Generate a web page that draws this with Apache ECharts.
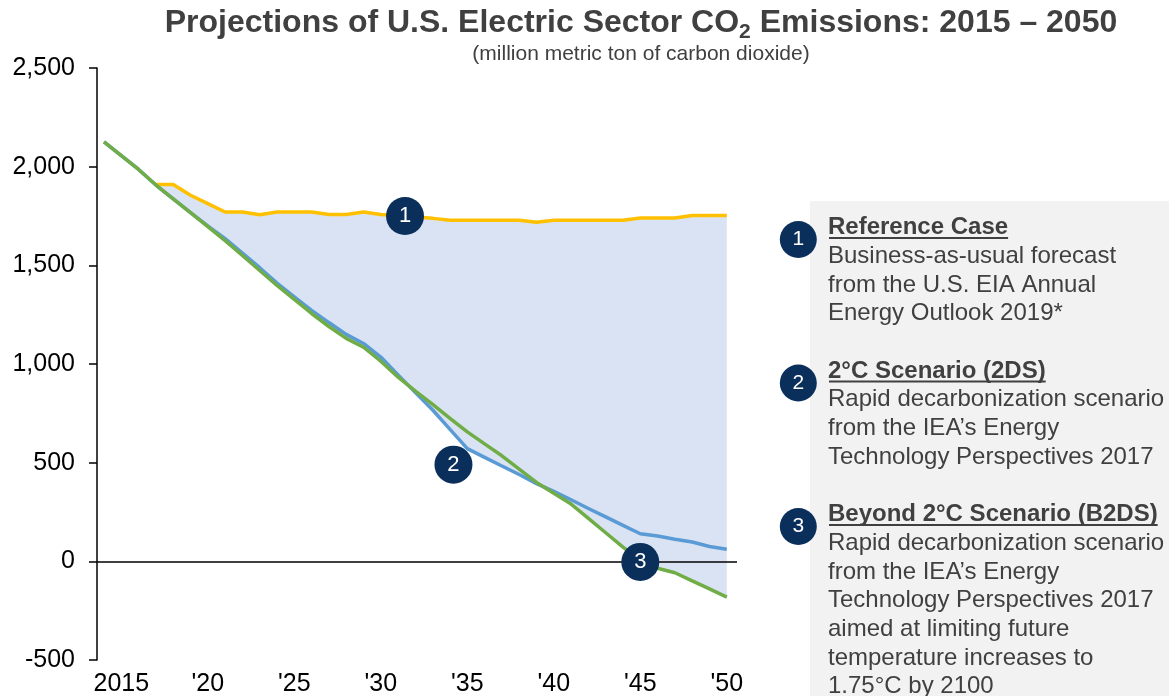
<!DOCTYPE html>
<html><head><meta charset="utf-8">
<script src="https://cdn.jsdelivr.net/npm/echarts@6/dist/echarts.min.js"></script>
<style>html,body{margin:0;padding:0;background:#fff}#c{width:1169px;height:696px}</style>
</head><body><div id="c"></div>
<script>
// ---------------- data ----------------
const years = [2014,2015,2016,2017,2018,2019,2020,2021,2022,2023,2024,2025,2026,2027,2028,2029,2030,2031,2032,2033,2034,2035,2036,2037,2038,2039,2040,2041,2042,2043,2044,2045,2046,2047,2048,2049,2050];
const referenceCase = [null,null,null,1910,1910,1855,1813,1770,1770,1756,1770,1770,1770,1758,1758,1770,1758,1752,1745,1738,1729,1729,1729,1729,1729,1718,1728,1728,1728,1728,1728,1740,1740,1740,1752,1752,1752];
const scenario2DS = [2126,2056,1986,1907,1837,1767,1700,1635,1562,1488,1410,1340,1272,1210,1150,1104,1035,945,855,767,669,571,527,483,440,394,355,312,268,225,182,140,128,112,98,75,61];
const scenarioB2DS = [2126,2056,1986,1907,1837,1767,1696,1625,1550,1474,1398,1327,1256,1190,1130,1085,1014,933,862,795,725,656,595,535,467,400,345,290,218,145,72,5,-35,-58,-99,-140,-181];
const xTickValues = [2015,2020,2025,2030,2035,2040,2045,2050];
const xTickLabels = ['2015',"'20","'25","'30","'35","'40","'45","'50"];
const annotations = [
  {num:'1', year:2031.4, value:1750},
  {num:'2', year:2034.2, value:490},
  {num:'3', year:2045.0, value:-3}
];
const titleParts = ['Projections of U.S. Electric Sector CO', '2', ' Emissions: 2015 \u2013 2050'];
const subtitle = '(million metric ton of carbon dioxide)';
const legendItems = [
  {num:'1', title:'Reference Case', lines:['Business-as-usual forecast','from the U.S. EIA Annual','Energy Outlook 2019*']},
  {num:'2', title:'2\u00B0C Scenario (2DS)', lines:['Rapid decarbonization scenario','from the IEA\u2019s Energy','Technology Perspectives 2017']},
  {num:'3', title:'Beyond 2\u00B0C Scenario (B2DS)', lines:['Rapid decarbonization scenario','from the IEA\u2019s Energy','Technology Perspectives 2017','aimed at limiting future','temperature increases to','1.75\u00B0C by 2100']}
];

// ---------------- styling ----------------
const FONT = '"Liberation Sans", Arial, Helvetica, sans-serif';
const TEXT = '#404040';
const NAVY = '#0B2F5B';
const C_REF = '#FFC000', C_2DS = '#5B9BD5', C_B2DS = '#70AD47', C_FILL = '#DAE3F3';

const mctx = document.createElement('canvas').getContext('2d');
function measure(txt, size, bold){ mctx.font = (bold?'bold ':'') + size + 'px ' + FONT; return mctx.measureText(txt).width; }

const pairs = arr => years.map((y,i)=>[y, arr[i]]);
const fillIdx = years.map((y,i)=>i).filter(i=>referenceCase[i]!=null);
const fillData = fillIdx.map(i=>[years[i], referenceCase[i], Math.min(scenario2DS[i], scenarioB2DS[i])]);

// ---------------- graphics (title + legend panel) ----------------
const graphics = [];
const TS = 32, SS = 21;
const w1 = measure(titleParts[0], TS, true), w2 = measure(titleParts[1], SS, true), w3 = measure(titleParts[2], TS, true);
let tx = 641 - (w1+w2+w3)/2;
graphics.push({type:'text', x:tx, y:23, style:{text:titleParts[0], font:'bold '+TS+'px '+FONT, fill:TEXT, align:'left', verticalAlign:'middle'}});
graphics.push({type:'text', x:tx+w1, y:32, style:{text:titleParts[1], font:'bold '+SS+'px '+FONT, fill:TEXT, align:'left', verticalAlign:'middle'}});
graphics.push({type:'text', x:tx+w1+w2, y:23, style:{text:titleParts[2], font:'bold '+TS+'px '+FONT, fill:TEXT, align:'left', verticalAlign:'middle'}});
graphics.push({type:'text', x:641, y:54, style:{text:subtitle, font:'21px '+FONT, fill:TEXT, align:'center', verticalAlign:'middle'}});

graphics.push({type:'rect', shape:{x:810, y:201, width:359, height:495}, style:{fill:'#F2F2F2'}, z:-1});
const LS = 24, LH = 28.7, BASE0 = 235, TX = 828;
let line = 0;
legendItems.forEach(item=>{
  const bl = BASE0 + line*LH;
  graphics.push({type:'circle', shape:{cx:798.3, cy:bl+4.5, r:18.5}, style:{fill:NAVY}});
  graphics.push({type:'text', x:798.3, y:bl+4.5, style:{text:item.num, font:'21px '+FONT, fill:'#fff', align:'center', verticalAlign:'middle'}});
  graphics.push({type:'text', x:TX, y:bl-7.5, style:{text:item.title, font:'bold '+LS+'px '+FONT, fill:TEXT, align:'left', verticalAlign:'middle'}});
  const uw = measure(item.title, LS, true);
  graphics.push({type:'line', shape:{x1:TX+1, y1:bl+3, x2:TX+uw, y2:bl+3}, style:{stroke:TEXT, lineWidth:1.8}});
  line++;
  item.lines.forEach(t=>{
    const b = BASE0 + line*LH;
    graphics.push({type:'text', x:TX, y:b-7.5, style:{text:t, font:LS+'px '+FONT, fill:TEXT, align:'left', verticalAlign:'middle'}});
    line++;
  });
  line++;
});

// ---------------- chart ----------------
const chart = echarts.init(document.getElementById('c'), null, {renderer:'canvas'});
chart.setOption({
  animation:false,
  backgroundColor:'#fff',
  textStyle:{fontFamily:FONT},
  grid:{left:97, right:432, top:68, bottom:36, containLabel:false, outerBoundsMode:'none'},
  xAxis:{
    type:'value', min:2013.595, max:2050.59,
    axisLine:{show:false}, axisTick:{show:false}, splitLine:{show:false},
    axisLabel:{customValues:xTickValues, formatter:v=>{const k=xTickValues.indexOf(v); return k>=0?xTickLabels[k]:'';},
      fontSize:25, color:'#000', fontFamily:FONT, margin:12, hideOverlap:false}
  },
  yAxis:{
    type:'value', min:-500, max:2500, interval:500,
    axisLine:{show:true, onZero:false, lineStyle:{color:'#000', width:1.5}},
    axisTick:{show:true, length:8, lineStyle:{color:'#000', width:1.5}},
    axisLabel:{fontSize:25, color:'#000', fontFamily:FONT, margin:22, formatter:v=>v.toLocaleString('en-US')},
    splitLine:{show:false}
  },
  graphic:graphics,
  series:[
    {name:'gap', type:'custom', coordinateSystem:'cartesian2d', data:fillData, encode:{x:0, y:1}, silent:true, z:1, clip:false,
      renderItem:function(params, api){
        if (params.dataIndex !== 0) return null;
        const top = fillData.map(d=>api.coord([d[0], d[1]]));
        const bot = fillData.map(d=>api.coord([d[0], d[2]])).reverse();
        return {type:'polygon', shape:{points:top.concat(bot)}, style:{fill:C_FILL}};
      },
      markLine:{silent:true, symbol:'none', label:{show:false}, lineStyle:{color:'#000', width:1.5, type:'solid'}, data:[{yAxis:0}]}},
    {name:'Reference Case', type:'line', data:pairs(referenceCase), showSymbol:false, symbol:'none', connectNulls:false,
      lineStyle:{color:C_REF, width:3.5}, z:2},
    {name:'2DS', type:'line', data:pairs(scenario2DS), showSymbol:false, symbol:'none',
      lineStyle:{color:C_2DS, width:3.5}, z:2},
    {name:'B2DS', type:'line', data:pairs(scenarioB2DS), showSymbol:false, symbol:'none',
      lineStyle:{color:C_B2DS, width:3.5}, z:2,
      markPoint:{symbol:'circle', symbolSize:38, silent:true, z:10,
        itemStyle:{color:NAVY},
        label:{show:true, position:'inside', formatter:'{b}', color:'#fff', fontSize:22, fontFamily:FONT},
        data:annotations.map(a=>({name:a.num, coord:[a.year, a.value]}))}}
  ]
});
</script></body></html>
